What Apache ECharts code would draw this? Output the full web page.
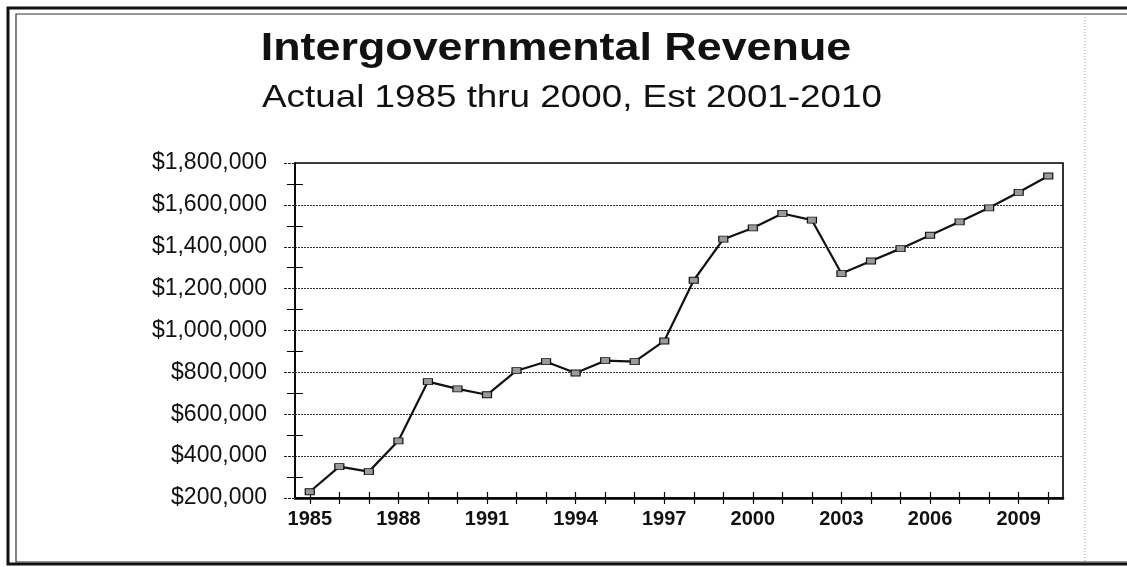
<!DOCTYPE html>
<html>
<head>
<meta charset="utf-8">
<title>Intergovernmental Revenue</title>
<script src="https://cdn.jsdelivr.net/npm/echarts@6/dist/echarts.min.js"></script>
<style>
  html, body { margin: 0; padding: 0; background: #fff; }
  #chart { width: 1127px; height: 567px; }
</style>
</head>
<body>
<div id="chart"></div>
<script>
// Fiscal years on the category axis
const years = ['1985','1986','1987','1988','1989','1990','1991','1992','1993',
  '1994','1995','1996','1997','1998','1999','2000','2001','2002','2003','2004',
  '2005','2006','2007','2008','2009','2010'];

// Revenue in dollars: actuals 1985-2000, estimates 2001-2010
const revenue = [230000, 350000, 326000, 473000, 756000, 721000, 693000, 808000,
  851000, 797000, 856000, 851000, 950000, 1240000, 1436000, 1490000, 1559000,
  1527000, 1272000, 1332000, 1391000, 1455000, 1519000, 1586000, 1660000, 1738000];

// Value axis range and step
const yMin = 200000;
const yMax = 1800000;
const yStep = 200000;

const titleText = 'Intergovernmental Revenue';
const subtitleText = 'Actual 1985 thru 2000, Est 2001-2010';

const FONT = '"Liberation Sans", Arial, sans-serif';

function money(v) {
  return '$' + v.toLocaleString('en-US');
}

const chart = echarts.init(document.getElementById('chart'), null, { renderer: 'canvas' });

chart.setOption({
  backgroundColor: '#ffffff',
  animation: false,
  grid: {
    left: 295, right: 64, top: 163, bottom: 69,
    show: true, borderColor: '#000', borderWidth: 1.6, backgroundColor: 'transparent'
  },
  graphic: [
    // outer double frame
    { type: 'rect', shape: { x: 8, y: 8, width: 1130, height: 556 },
      style: { fill: 'none', stroke: '#111', lineWidth: 3 }, silent: true },
    { type: 'rect', shape: { x: 16, y: 14, width: 1130, height: 548 },
      style: { fill: 'none', stroke: '#333', lineWidth: 1.2 }, silent: true },
    // dotted rule on the right
    { type: 'line', shape: { x1: 1085, y1: 14, x2: 1085, y2: 562 },
      style: { stroke: '#999', lineWidth: 1, lineDash: [1, 2] }, silent: true },
    // headings (set slightly wide, as printed)
    { type: 'text', x: 556, y: 50, scaleX: 1.18,
      style: { text: titleText, font: 'bold 38px ' + FONT, fill: '#111',
        textAlign: 'center', textVerticalAlign: 'middle' } },
    { type: 'text', x: 572, y: 98, scaleX: 1.15,
      style: { text: subtitleText, font: '32px ' + FONT, fill: '#111',
        textAlign: 'center', textVerticalAlign: 'middle' } }
  ],
  xAxis: [{
    type: 'category',
    data: years,
    boundaryGap: true,
    axisLine: { lineStyle: { color: '#000', width: 2.5 } },
    axisTick: { show: true, alignWithLabel: true, interval: 0, length: 6,
      lineStyle: { color: '#000', width: 1.2 } },
    axisLabel: {
      interval: 2, margin: 11, color: '#111',
      fontFamily: FONT, fontSize: 20, fontWeight: 'bold'
    },
    splitLine: { show: false }
  }, {
    // tick marks rising above the baseline
    type: 'category',
    data: years,
    position: 'bottom',
    offset: 0,
    boundaryGap: true,
    axisLine: { show: false },
    axisTick: { show: true, inside: true, alignWithLabel: true, interval: 0, length: 6,
      lineStyle: { color: '#000', width: 1.2 } },
    axisLabel: { show: false },
    splitLine: { show: false }
  }],
  yAxis: [{
    type: 'value',
    min: yMin, max: yMax, interval: yStep,
    axisLine: { show: true, lineStyle: { color: '#000', width: 1.6 } },
    axisTick: { show: true, length: 12, lineStyle: { color: '#222', type: [3, 1] } },
    minorTick: { show: true, splitNumber: 2, length: 8, lineStyle: { color: '#000' } },
    axisLabel: {
      margin: 28, color: '#111', fontFamily: FONT, fontSize: 23,
      formatter: money
    },
    splitLine: { show: true, lineStyle: { color: '#333', width: 1.2, type: [2, 1] } }
  }, {
    // minor marks reaching into the plot
    type: 'value',
    position: 'left',
    offset: 0,
    min: yMin, max: yMax, interval: yStep,
    axisLine: { show: false },
    axisTick: { show: false, inside: true },
    minorTick: { show: true, splitNumber: 2, length: 8, lineStyle: { color: '#000' } },
    axisLabel: { show: false },
    splitLine: { show: false }
  }],
  series: [{
    type: 'line',
    xAxisIndex: 0,
    yAxisIndex: 0,
    data: revenue,
    symbol: 'rect',
    symbolSize: [9, 6],
    showAllSymbol: true,
    itemStyle: { color: '#9a9a9a', borderColor: '#111', borderWidth: 1 },
    lineStyle: { color: '#111', width: 2.2 }
  }]
});
</script>
</body>
</html>
